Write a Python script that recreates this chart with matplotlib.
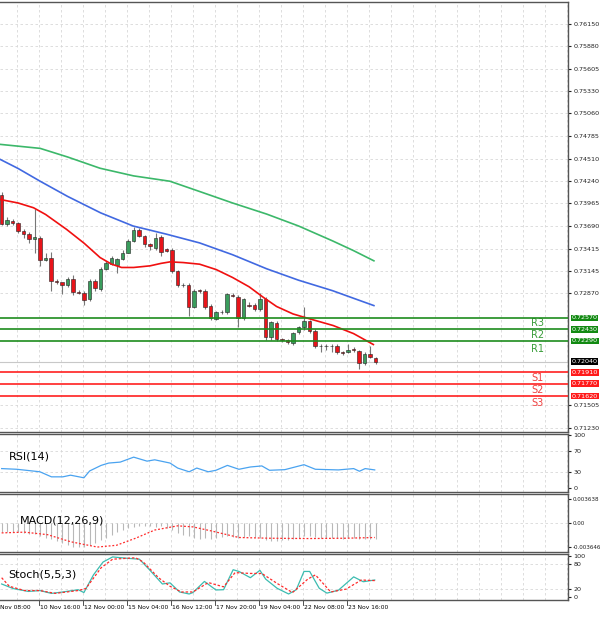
import matplotlib
matplotlib.use('Agg')
import matplotlib.pyplot as plt

# candle data (oldest -> newest)
opens = [.74073, .73710, .73750, .73722, .73629, .73589, .73528, .73548, .73273, .73298,
         .73023, .73003, .72975, .73039, .72890, .72878, .72801, .73023, .72922, .73164,
         .73225, .73217, .73286, .73366, .73508, .73637, .73568, .73467, .73427, .73556,
         .73407, .73395, .73144, .72975, .72975, .72708, .72910, .72902, .72720, .72558,
         .72647, .72639, .72853, .72829, .72571, .72732, .72732, .72680, .72797, .72344,
         .72506, .72316, .72304, .72264, .72397, .72457, .72530, .72417, .72227, .72227,
         .72227, .72227, .72154, .72154, .72187, .72167, .72021, .72134, .72086]
closes = [.73710, .73758, .73730, .73629, .73589, .73528, .73556, .73273, .73298, .73023,
          .73003, .72975, .73039, .72882, .72874, .72789, .73023, .72934, .73164, .73245,
          .73306, .73286, .73366, .73508, .73637, .73568, .73467, .73447, .73548, .73378,
          .73387, .73136, .72975, .72966, .72708, .72902, .72894, .72700, .72571, .72647,
          .72639, .72861, .72841, .72571, .72801, .72720, .72680, .72797, .72336, .72518,
          .72316, .72304, .72276, .72385, .72457, .72530, .72417, .72227, .72223, .72223,
          .72223, .72154, .72142, .72183, .72175, .72021, .72134, .72094, .72040]
highs = [.74100, .73800, .73780, .73740, .73650, .73620, .73892, .73570, .73360, .73378,
         .73050, .73000, .73070, .73090, .72910, .72900, .73040, .73040, .73190, .73260,
         .73320, .73300, .73400, .73530, .73680, .73660, .73580, .73480, .73600, .73580,
         .73420, .73420, .73160, .72990, .72990, .72920, .72920, .72920, .72740, .72660,
         .72670, .72880, .72870, .72850, .72810, .72760, .72750, .72870, .72830, .72530,
         .72530, .72330, .72320, .72400, .72470, .72700, .72550, .72430, .72250, .72250,
         .72250, .72250, .72170, .72250, .72220, .72180, .72150, .72230, .72100]
lows = [.73700, .73690, .73700, .73610, .73540, .73480, .73366, .73200, .73260, .72900,
        .72980, .72860, .72950, .72850, .72860, .72732, .72780, .72900, .72900, .73150,
        .73210, .73120, .73270, .73360, .73500, .73550, .73440, .73400, .73400, .73330,
        .73370, .73120, .72950, .72950, .72600, .72690, .72880, .72680, .72550, .72540,
        .72620, .72620, .72830, .72457, .72550, .72700, .72660, .72660, .72296, .72300,
        .72290, .72280, .72250, .72240, .72380, .72420, .72390, .72210, .72160, .72180,
        .72150, .72130, .72120, .72140, .72160, .71952, .72000, .72080, .72010]

# moving averages (candle index, price)
ma_red_x = [-0.3, 3, 5.8, 8, 11.8, 15, 17.9, 20, 21.8, 24, 27, 29, 30.6, 33, 36, 39, 42,
            45, 47.6, 50, 53, 56, 60.3, 64, 67.6]
ma_red_y = [.74013, .73970, .73912, .73830, .73649, .73480, .73306, .73225, .73185, .73185,
            .73205, .73235, .73253, .73245, .73225, .73160, .73063, .72950, .72821, .72710,
            .72619, .72560, .72478, .72380, .72247]
ma_blue_x = [-0.3, 3, 7, 12, 18, 23.9, 30, 36, 42, 48.2, 54, 60.2, 64, 67.7]
ma_blue_y = [.74502, .74390, .74235, .74050, .73850, .73690, .73590, .73484, .73340, .73169,
             .73030, .72902, .72810, .72721]
ma_green_x = [-0.3, 7, 12, 17.9, 24, 30.6, 36, 42, 48.2, 54, 60.2, 64, 67.7]
ma_green_y = [.74684, .74635, .74530, .74393, .74300, .74235, .74110, .73970, .73835, .73690,
              .73508, .73390, .73266]

resist = [0.72570, 0.72430, 0.72290]
support = [0.71910, 0.71770, 0.71620]
last_price = 0.72040
price_ticks = [0.76150, 0.75880, 0.75605, 0.75330, 0.75060, 0.74785, 0.74510, 0.74240,
               0.73965, 0.73690, 0.73415, 0.73145, 0.72870, 0.71505, 0.71230]

rsi_x = [0, 2.78, 6.96, 9.05, 11.13, 12.53, 14.96, 16.01, 18.09, 19.48, 21.57, 24.01, 26.44,
         27.84, 30.62, 32.01, 34.1, 35.49, 37.58, 38.97, 41.06, 43.15, 45.23, 47.32, 48.71,
         51.5, 54.98, 57.06, 61.24, 64.02, 65.07, 66.11, 67.85]
rsi_y = [37, 35.7, 31, 21.5, 21.5, 24.6, 19.7, 32.6, 43, 47.4, 49.2, 58.5, 51, 53.5, 47.4,
         38, 31, 38, 31, 33.8, 43, 35.7, 40, 42, 33.8, 35, 44.3, 35.7, 34.5, 37, 32, 37, 34.5]

macd_sig_x = [0, 4.18, 8.35, 12.53, 17.4, 20.88, 24.36, 27.84, 32.01, 34.79, 38.27, 43.15, 48.71, 55.67, 62.63, 67.85]
macd_sig_y = [-0.00150, -0.00139, -0.00177, -0.00284, -0.00365, -0.00338, -0.00231, -0.00107,
              -0.00043, -0.00059, -0.00123, -0.00220, -0.00231, -0.00236, -0.00231, -0.00220]
macd_hist = [-0.0014, -0.0013, -0.0013, -0.0014, -0.0015, -0.0016, -0.0016,
             -0.0019, -0.0022, -0.0025, -0.0028, -0.0031, -0.0034, -0.0036,
             -0.0037, -0.0036, -0.0033, -0.0030, -0.0026, -0.0022, -0.0018,
             -0.0014, -0.0010, -0.0008, -0.0006, -0.0005, -0.0004, -0.0004,
             -0.0006, -0.0005, -0.0008, -0.0011, -0.0015, -0.0018, -0.0020,
             -0.0022, -0.0024, -0.0023, -0.0024, -0.0022, -0.0021, -0.0020,
             -0.0021, -0.0022, -0.0021, -0.0020, -0.0021, -0.0022, -0.0026,
             -0.0027, -0.0027, -0.0026, -0.0026, -0.0024, -0.0022, -0.0020,
             -0.0020, -0.0021, -0.0022, -0.0023, -0.0023, -0.0023, -0.0024,
             -0.0023, -0.0023, -0.0024, -0.0025, -0.0024, -0.0024]

st_x = [0, 2.09, 4.87, 6.96, 9.05, 11.13, 13.92, 14.96, 16.7, 18.44, 20.18, 22.96, 25.05,
        26.79, 29.23, 30.62, 32.36, 34.1, 34.79, 36.88, 38.97, 40.36, 42.1, 43.15, 45.23,
        46.97, 48.02, 50.1, 52.19, 53.58, 54.98, 56.02, 57.76, 59.15, 61.24, 64.02, 65.76, 67.85]
st_main = [32.3, 21.4, 14.5, 16.6, 9.8, 13.2, 18.6, 11.8, 54.1, 84.8, 97, 93.6, 91.6, 67.7,
           32.3, 35, 13.2, 8.4, 11.8, 38.4, 18, 18.6, 66.4, 62.3, 47.3, 65, 43.9, 22, 8.4,
           18.6, 62.3, 62.3, 22, 10.5, 17.3, 49.3, 37.7, 41.8]
sig_x = [0, 1.39, 4.18, 6.96, 9.74, 13.92, 15.31, 18.09, 20.18, 24.36, 25.75, 28.53, 30.62,
         32.71, 34.79, 37.58, 40.36, 42.45, 45.23, 47.32, 50.1, 52.89, 55.67, 57.06, 59.85,
         62.63, 65.41, 67.85]
st_sig = [47.3, 26.8, 16.6, 16.6, 9.8, 16.6, 21.4, 71.1, 91.6, 95, 84.8, 47.3, 26.8, 13.2,
          13.2, 35.7, 25.5, 59.5, 57.5, 57.5, 33.6, 11.8, 43.9, 54.1, 13.2, 20, 41.8, 40.4]

xlabels = ['Nov 08:00', '10 Nov 16:00', '12 Nov 00:00', '15 Nov 04:00', '16 Nov 12:00',
           '17 Nov 20:00', '19 Nov 04:00', '22 Nov 08:00', '23 Nov 16:00']

GREEN = '#3a9d5d'
RED = '#e8141a'
XMIN, XMAX = -0.3, 103
grid_x = [-1.2 + 4 * k for k in range(27)]
label_x = [-1.2 + 8 * k for k in range(9)]

fig = plt.figure(figsize=(6, 6.19), dpi=100)
H = 619.0
W = 568 / 600


def panel(top, bottom):
    return fig.add_axes([0, 1 - bottom / H, W, (bottom - top) / H])


ax = panel(2, 432)
ax_rsi = panel(434, 492)
ax_macd = panel(494, 552)
ax_st = panel(554, 600)

for a in (ax, ax_rsi, ax_macd, ax_st):
    a.set_xlim(XMIN, XMAX)
    a.set_xticks([])
    for gx in grid_x:
        a.axvline(gx, color='#d8d8d8', lw=0.6, ls=(0, (3, 3)), zorder=0)
    for s in a.spines.values():
        s.set_color('#555555')
        s.set_linewidth(1.0)
    a.spines['left'].set_visible(False)
    a.yaxis.tick_right()
    a.tick_params(axis='y', labelsize=4.6, length=2, pad=2, colors='#222222')

# main price panel
ax.set_ylim(0.71182, 0.76417)
ax.set_yticks(price_ticks)
ax.set_yticklabels([f'{t:.5f}' for t in price_ticks])
for t in price_ticks:
    ax.axhline(t, color='#d8d8d8', lw=0.6, ls=(0, (3, 3)), zorder=0)

for i in range(len(opens)):
    up = closes[i] >= opens[i]
    ax.vlines(i, lows[i], highs[i], color='#777777', lw=0.8, zorder=2)
    ax.bar(i, abs(closes[i] - opens[i]) or 0.00002, bottom=min(opens[i], closes[i]),
           width=0.6, color=GREEN if up else RED, edgecolor='#222222', lw=0.4, zorder=3)

ax.plot(ma_green_x, ma_green_y, color='#3cb86a', lw=1.2, zorder=4)
ax.plot(ma_blue_x, ma_blue_y, color='#4169e1', lw=1.2, zorder=4)
ax.plot(ma_red_x, ma_red_y, color='#f01010', lw=1.2, zorder=4)

ax.axhline(last_price, color='#c8c8c8', lw=0.8, zorder=1)
for r in resist:
    ax.axhline(r, color='#1e8c1e', lw=1.2, zorder=5)
for s in support:
    ax.axhline(s, color='#ff2020', lw=1.2, zorder=5)

for name, y in zip(['R3', 'R2', 'R1'], [0.72510, 0.72362, 0.72190]):
    ax.text(97.5, y, name, color='#3a9d3a', fontsize=7, ha='center', va='center')
for name, y in zip(['S1', 'S2', 'S3'], [0.71835, 0.71690, 0.71540]):
    ax.text(97.5, y, name, color='#f04040', fontsize=7, ha='center', va='center')


def price_box(y, fc):
    ax.annotate(f'{y:.5f}', xy=(1.0, y), xycoords=('axes fraction', 'data'),
                xytext=(2.5, 0), textcoords='offset points', fontsize=4.6, color='white',
                va='center', ha='left', annotation_clip=False,
                bbox=dict(boxstyle='square,pad=0.15', fc=fc, ec='none'))


for r in resist:
    price_box(r, '#128a12')
price_box(last_price, '#000000')
for s in support:
    price_box(s, '#ff1a1a')

# RSI
ax_rsi.set_ylim(-7, 102)
ax_rsi.set_yticks([100, 70, 30, 0])
for t in (70, 30):
    ax_rsi.axhline(t, color='#d8d8d8', lw=0.6, ls=(0, (3, 3)), zorder=0)
ax_rsi.plot(rsi_x, rsi_y, color='#4aa3f0', lw=0.9)
ax_rsi.text(0.015, 0.62, 'RSI(14)', transform=ax_rsi.transAxes, fontsize=8, va='center')

# MACD
ax_macd.set_ylim(-0.0044, 0.0044)
ax_macd.set_yticks([0.003638, 0.0, -0.003646])
ax_macd.set_yticklabels(['0.003638', '0.00', '-0.003646'])
ax_macd.tick_params(axis='y', labelsize=4.1, pad=1.5)
ax_macd.axhline(0, color='#d8d8d8', lw=0.6, ls=(0, (3, 3)), zorder=0)
ax_macd.vlines(range(len(macd_hist)), 0, macd_hist, color='#b8b8b8', lw=0.8)
ax_macd.plot(macd_sig_x, macd_sig_y, color='#ff2a2a', lw=0.9, ls=(0, (1.5, 1.5)))
ax_macd.text(0.035, 0.55, 'MACD(12,26,9)', transform=ax_macd.transAxes, fontsize=8,
             va='center')

# Stochastic
ax_st.set_ylim(-6, 104)
ax_st.set_yticks([100, 80, 20, 0])
for t in (80, 20):
    ax_st.axhline(t, color='#d8d8d8', lw=0.6, ls=(0, (3, 3)), zorder=0)
ax_st.plot(st_x, st_main, color='#3cbcb0', lw=0.9)
ax_st.plot(sig_x, st_sig, color='#ff2a2a', lw=0.9, ls=(0, (2, 1.5)))
ax_st.text(0.015, 0.55, 'Stoch(5,5,3)', transform=ax_st.transAxes, fontsize=8, va='center')

for lx, lab in zip(label_x, xlabels):
    if lx > XMIN:
        ax_st.plot([lx, lx], [0, -0.1], transform=ax_st.get_xaxis_transform(),
                   color='#333333', lw=0.6, clip_on=False)
    ax_st.text(max(lx + 0.25, XMIN), -0.1, lab, transform=ax_st.get_xaxis_transform(),
               fontsize=4.3, ha='left', va='top')

fig.savefig('out.png', dpi=100)
